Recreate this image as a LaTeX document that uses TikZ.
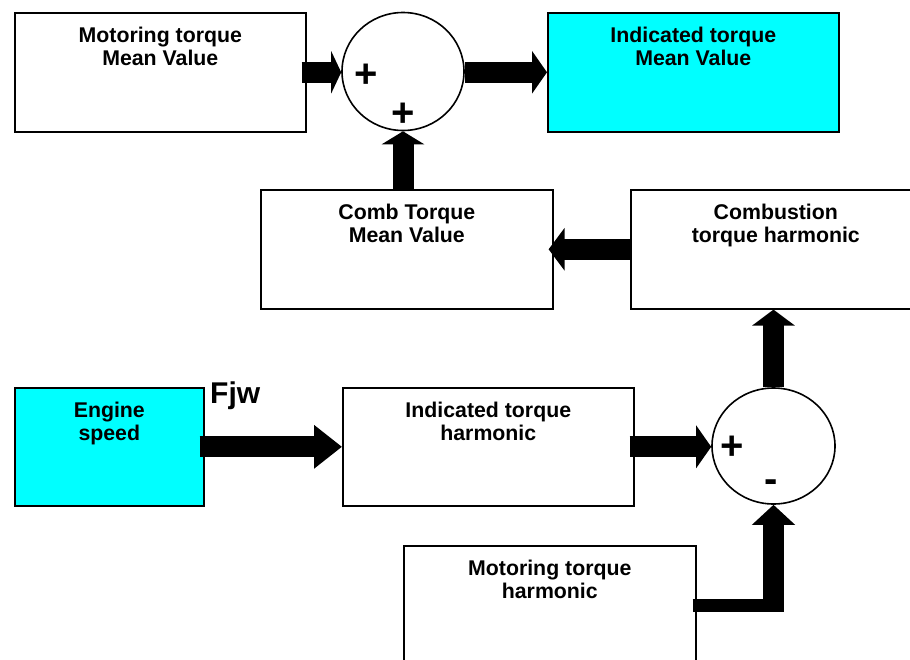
\documentclass[tikz,border=0pt]{standalone}
\usepackage{fontspec}
\setmainfont{Liberation Sans}
\usetikzlibrary{arrows.meta,shapes.geometric,positioning}
\definecolor{aqua}{RGB}{0,255,255}

\begin{document}
\begin{tikzpicture}[x=1pt,y=-1pt,
  blk/.style={draw, line width=1.6pt, anchor=north west, inner sep=0pt},
  txt/.style={font=\bfseries\fontsize{21.3}{23.5}\selectfont, align=center, inner sep=0pt},
  sumnode/.style={draw, ellipse, line width=1.6pt, inner sep=0pt},
  sgn/.style={font=\bfseries\fontsize{40}{40}\selectfont, anchor=base, inner sep=0pt},
  fat/.style={line width=21pt, -{Triangle[length=#1,width=42pt]}},
  fat/.default=15pt]
\useasboundingbox (0,0) rectangle (910,659);
% Mean value loop
\node[blk, minimum width=291pt, minimum height=119pt] (mtm) at (14,12) {};
\node[blk, fill=aqua, minimum width=291pt, minimum height=119pt] (itm) at (547,12) {};
\node[blk, minimum width=292pt, minimum height=119pt] (ctm) at (260,189) {};
\node[blk, minimum width=290pt, minimum height=119pt] (cth) at (630,189) {};
\node[txt, below=14.5pt of mtm.north] (mtm-t) {Motoring torque\\Mean Value};
\node[txt, below=14.5pt of itm.north] (itm-t) {Indicated torque\\Mean Value};
\node[txt, below=14.5pt of ctm.north] (ctm-t) {Comb Torque\\Mean Value};
\node[txt, below=14.5pt of cth.north] (cth-t) {Combustion\\torque harmonic};
\node[sumnode, minimum width=122pt, minimum height=118pt] (sum1) at (403,71.5) {};
\node[sgn] (p1) at (366,87.5) {+};
\node[sgn] (p2) at (403,126.5) {+};
% Harmonic loop
\node[blk, fill=aqua, minimum width=189pt, minimum height=118pt] (eng) at (14,387) {};
\node[blk, minimum width=291pt, minimum height=118pt] (ith) at (342,387) {};
\node[blk, minimum width=292pt, minimum height=119pt] (mth) at (403,545) {};
\node[txt, below=14.5pt of eng.north] (eng-t) {Engine\\speed};
\node[txt, below=14.5pt of ith.north] (ith-t) {Indicated torque\\harmonic};
\node[txt, below=14.5pt of mth.north] (mth-t) {Motoring torque\\harmonic};
\node[sumnode, minimum width=123pt, minimum height=116pt] (sum2) at (773.5,446) {};
\node[sgn] (p3) at (732,459.5) {+};
\node[sgn] (m1) at (771.5,492) {-};
\node[font=\bfseries\fontsize{30}{30}\selectfont, anchor=base west, inner sep=0pt] (fjw) at (210,403) {Fjw};
% Block arrows
\draw[fat=10pt] ([xshift=-5pt]mtm.east) -- (mtm.east -| sum1.west);
\draw[fat] (itm.west -| sum1.east) -- (itm.west);
\draw[fat=13pt] (sum1 |- ctm.north) -- (sum1.south);
\draw[fat=16pt] (cth.west) -- ([xshift=-5pt]cth.west -| ctm.east);
\draw[fat=28pt] ([xshift=-5pt]eng.east) -- (eng.east -| ith.west);
\draw[fat] ([xshift=-5pt]ith.east) -- (ith.east -| sum2.west);
\draw[fat=16pt] (sum2.north) -- (sum2.north |- cth.south);
\coordinate (bend) at (sum2.south |- mth.east);
\draw[line width=13pt] ([xshift=-4pt]mth.east) -- ([xshift=10.5pt]bend);
\draw[fat=20pt] ([yshift=-6.5pt]bend) -- (sum2.south);
\end{tikzpicture}
\end{document}
